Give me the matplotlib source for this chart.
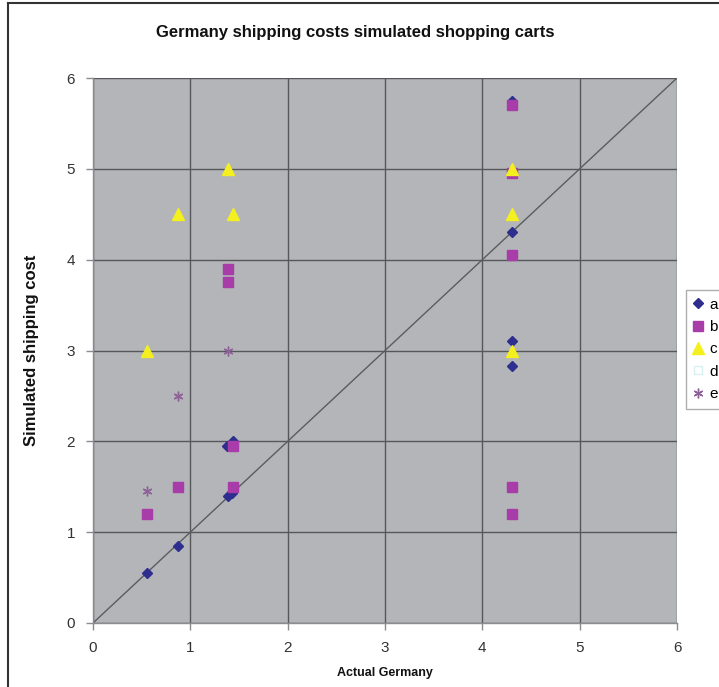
import matplotlib
matplotlib.use("Agg")
import matplotlib.pyplot as plt
from matplotlib.lines import Line2D

plt.rcParams['font.family'] = ['Liberation Sans', 'DejaVu Sans']

# Simulated shopping carts: actual German shipping cost vs. simulated cost
a_x = [0.55, 0.87, 1.39, 1.43, 1.38, 1.44, 4.3, 4.3, 4.3, 4.3]
a_y = [0.55, 0.85, 1.40, 1.43, 1.95, 2.00, 5.75, 4.30, 3.10, 2.83]

b_x = [0.55, 0.87, 1.44, 1.44, 1.39, 1.39, 4.3, 4.3, 4.3, 4.3, 4.3]
b_y = [1.20, 1.50, 1.95, 1.50, 3.90, 3.75, 5.70, 4.95, 4.05, 1.50, 1.20]

c_x = [0.55, 0.87, 1.39, 1.44, 4.3, 4.3, 4.3]
c_y = [3.0, 4.5, 5.0, 4.5, 5.0, 4.5, 3.0]

d_x = []
d_y = []

e_x = [0.55, 0.87, 1.39]
e_y = [1.45, 2.50, 3.00]

ref_x = [0, 6]
ref_y = [0, 6]

series_names = ['a', 'b', 'c', 'd', 'e']
ticks = [0, 1, 2, 3, 4, 5, 6]

fig = plt.figure(figsize=(7.19, 6.87), dpi=100)
ax = fig.add_axes([93 / 719, 1 - 623 / 687, 584 / 719, 545 / 687])
ax.set_facecolor('#b3b5b8')

ax.set_xlim(0, 6)
ax.set_ylim(0, 6)
ax.set_xticks(ticks)
ax.set_yticks(ticks)
ax.grid(True, color='#55575b', linewidth=1.0)
ax.set_axisbelow(True)

for side in ['top', 'right']:
    ax.spines[side].set_visible(False)
for side in ['left', 'bottom']:
    ax.spines[side].set_color('#8a8c90')
    ax.spines[side].set_linewidth(1.0)

ax.tick_params(axis='both', colors='#8a8c90', labelcolor='#333333',
               labelsize=11, length=5, width=1, direction='out')
ax.tick_params(axis='x', pad=8)
ax.tick_params(axis='y', pad=8)

ax.plot(ref_x, ref_y, color='#5a5c60', linewidth=1.0, zorder=2)

star = (6, 2, 0)
ms_a = dict(marker='D', color='#2e2e8f', markersize=5.5, linestyle='none')
ms_b = dict(marker='s', color='#a83ca8', markersize=7, linestyle='none')
ms_c = dict(marker='^', color='#f4f020', markersize=8, linestyle='none')
ms_d = dict(marker='s', markerfacecolor='none', markeredgecolor='#d8f0f0',
            markersize=6, linestyle='none')
ms_e = dict(marker=star, color='#8e6098', markersize=7, markeredgewidth=1.0,
            linestyle='none')

ax.plot(a_x, a_y, zorder=3, **ms_a)
ax.plot(b_x, b_y, zorder=4, **ms_b)
ax.plot(c_x, c_y, zorder=5, **ms_c)
ax.plot(d_x, d_y, zorder=6, **ms_d)
ax.plot(e_x, e_y, zorder=7, **ms_e)

handles = [Line2D([], [], **ms_a), Line2D([], [], **ms_b),
           Line2D([], [], **ms_c), Line2D([], [], **ms_d),
           Line2D([], [], **ms_e)]
leg = fig.legend(handles, series_names, loc='upper left',
                 bbox_to_anchor=(686 / 719, 1 - 290 / 687),
                 frameon=True, fontsize=11, handlelength=0.6,
                 handletextpad=0.4, borderpad=0.5, labelspacing=0.55,
                 borderaxespad=0, fancybox=False)
leg.get_frame().set_edgecolor('#9a9a9a')
leg.get_frame().set_linewidth(1.0)

fig.text(355 / 719, 1 - 33 / 687, 'Germany shipping costs simulated shopping carts',
         ha='center', va='center', fontsize=12, fontweight='bold', color='#111111')
fig.text(32 / 719, 1 - 350 / 687, 'Simulated shipping cost', rotation=90,
         ha='center', va='center', fontsize=12, fontweight='bold', color='#111111')
fig.text(385 / 719, 1 - 673 / 687, 'Actual Germany',
         ha='center', va='center', fontsize=9, fontweight='bold', color='#111111')

# outer frame of the chart area
fig.add_artist(Line2D([8 / 719, 8 / 719], [0, 1 - 3 / 687], color='#333333',
                      linewidth=1.5, transform=fig.transFigure))
fig.add_artist(Line2D([8 / 719, 1], [1 - 3 / 687, 1 - 3 / 687], color='#333333',
                      linewidth=1.5, transform=fig.transFigure))

fig.savefig('out.png', dpi=100)
